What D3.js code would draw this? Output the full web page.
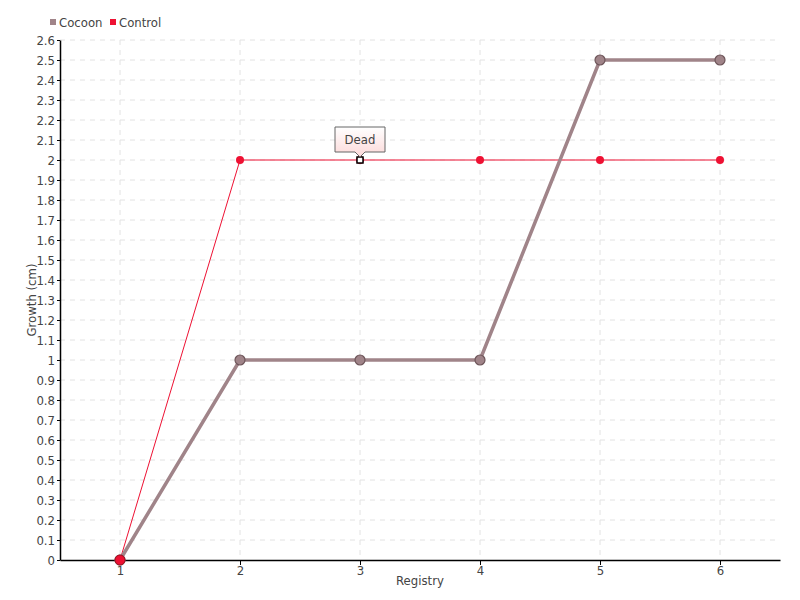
<!DOCTYPE html>
<html><head><meta charset="utf-8">
<script src="https://cdn.jsdelivr.net/npm/d3@7"></script>
<style>
body{margin:0;background:#fff;}
text{font-family:"DejaVu Sans Condensed","DejaVu Sans",sans-serif;font-stretch:condensed;fill:#444;}
</style></head><body>
<svg id="c" width="800" height="600"></svg>
<script>
const registry = [1,2,3,4,5,6];
const cocoon = [0,1,1,1,2.5,2.5];
const control = [0,2,2,2,2,2];
const yTicks = d3.range(0,27).map(i=>i/10);
const seriesNames = ["Cocoon","Control"];
const colors = ["#a08489","#ee1133"];
const noteIndex = 2, noteText = "Dead";

const FONT = '"DejaVu Sans Condensed","DejaVu Sans",sans-serif';
const svg = d3.select("#c");
const m = {l:60,r:20,t:40,b:40};
const W=800,H=600;
const x = d3.scaleLinear().domain([0.5,6.5]).range([m.l,W-m.r]);
const y = d3.scaleLinear().domain([0,2.6]).range([H-m.b,m.t]);

// grid
const g = svg.append("g");
g.selectAll(".hg").data(yTicks.slice(1)).enter().append("line")
 .attr("x1",m.l).attr("x2",W-m.r).attr("y1",d=>y(d)).attr("y2",d=>y(d))
 .attr("stroke","#e2e2e2").attr("stroke-dasharray","5,5");
g.selectAll(".vg").data(registry).enter().append("line")
 .attr("x1",d=>x(d)).attr("x2",d=>x(d)).attr("y1",m.t).attr("y2",H-m.b)
 .attr("stroke","#e2e2e2").attr("stroke-dasharray","5,5");

// axes
const fmt = d=> (Math.round(d*10)/10).toString();
const ya = svg.append("g").attr("transform",`translate(${m.l},0)`)
 .call(d3.axisLeft(y).tickValues(yTicks).tickFormat(fmt).tickSize(3).tickSizeOuter(0));
const xa = svg.append("g").attr("transform",`translate(0,${H-m.b})`)
 .call(d3.axisBottom(x).tickValues(registry).tickFormat(d3.format("d")).tickSize(5).tickSizeOuter(0));
[ya,xa].forEach(a=>{
 a.select(".domain").attr("stroke","#000").attr("stroke-width",1.5);
 a.selectAll(".tick line").attr("stroke","#000");
 a.selectAll("text").attr("font-size",13).attr("fill","#555")
  .style("font-family",FONT).style("font-stretch","condensed");
});
ya.selectAll("text").attr("x",-5);
xa.selectAll("text").attr("y",6);

svg.append("text").attr("x",(m.l+W-m.r)/2).attr("y",585).attr("text-anchor","middle")
 .attr("font-size",13).text("Registry");
svg.append("text").attr("transform",`translate(36,${(m.t+H-m.b)/2}) rotate(-90)`)
 .attr("text-anchor","middle").attr("font-size",13).text("Growth (cm)");

// lines
const line = d3.line().x((d,i)=>x(registry[i])).y(d=>y(d));
svg.append("path").datum(control).attr("d",line).attr("fill","none")
 .attr("stroke",colors[1]).attr("stroke-width",1);
svg.append("path").datum(cocoon).attr("d",line).attr("fill","none")
 .attr("stroke",colors[0]).attr("stroke-width",3.5);

svg.selectAll(".pc").data(cocoon).enter().append("circle")
 .attr("cx",(d,i)=>x(registry[i])).attr("cy",d=>y(d)).attr("r",5)
 .attr("fill",colors[0]).attr("stroke","#6e565a").attr("stroke-width",1.2);
svg.selectAll(".pr").data(control).enter().append("circle")
 .attr("cx",(d,i)=>x(registry[i])).attr("cy",d=>y(d)).attr("r",(d,i)=>i===0?5:4)
 .attr("fill",colors[1]).attr("stroke",(d,i)=>i===0?"#a01020":"none").attr("stroke-width",1);

// note marker
const nx = x(registry[noteIndex]), ny = y(control[noteIndex]);
svg.append("rect").attr("x",nx-3).attr("y",ny-3).attr("width",6).attr("height",6)
 .attr("fill","#fff").attr("stroke","#000").attr("stroke-width",1.5);

// tooltip
const defs = svg.append("defs");
const lg = defs.append("linearGradient").attr("id","tg").attr("x1",0).attr("y1",0).attr("x2",0).attr("y2",1);
lg.append("stop").attr("offset","0%").attr("stop-color","#ffffff");
lg.append("stop").attr("offset","100%").attr("stop-color","#fcd8d8");
const bw=50,bh=25,bx=nx-25,by=ny-33;
svg.append("path")
 .attr("d",`M${bx},${by} H${bx+bw} V${by+bh} H${nx+5} L${nx},${by+bh+5} L${nx-5},${by+bh} H${bx} Z`)
 .attr("fill","url(#tg)").attr("stroke","#666").attr("stroke-width",1);
svg.append("text").attr("x",nx).attr("y",by+17).attr("text-anchor","middle")
 .attr("font-size",13).attr("fill","#444").text(noteText);

// legend
const leg = svg.append("g");
const lx=[50,110];
seriesNames.forEach((s,i)=>{
 leg.append("rect").attr("x",lx[i]).attr("y",19).attr("width",6).attr("height",6).attr("fill",colors[i]);
 leg.append("text").attr("x",lx[i]+9).attr("y",27).attr("font-size",13).attr("fill","#444").text(s);
});
</script></body></html>
